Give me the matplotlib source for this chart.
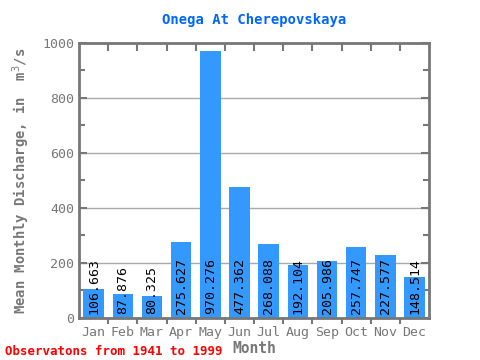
import matplotlib
matplotlib.use('Agg')
import matplotlib.pyplot as plt
from matplotlib.ticker import MultipleLocator

months = ['Jan', 'Feb', 'Mar', 'Apr', 'May', 'Jun', 'Jul', 'Aug', 'Sep', 'Oct', 'Nov', 'Dec']
flow = [106.663, 87.876, 80.325, 275.627, 970.276, 477.362, 268.088, 192.104, 205.986, 257.747, 227.577, 148.514]
labels = ['106.663', '87.876', '80.325', '275.627', '970.276', '477.362', '268.088', '192.104', '205.986', '257.747', '227.577', '148.514']

plt.rcParams['font.family'] = ['DejaVu Sans Mono']
grey = '#777777'

fig = plt.figure(figsize=(4.8, 3.6), dpi=100)
ax = fig.add_axes([0.1646, 0.1167, 0.7294, 0.764])

x = list(range(len(months)))
ax.bar(x, flow, width=0.7, color='#3399ff', zorder=2)
for i, v in enumerate(flow):
    ax.text(i, 15, labels[i], rotation=90, ha='center', va='bottom', fontsize=9.5, color='black', zorder=3)

ax.set_xlim(-0.5, 11.5)
ax.set_ylim(0, 1000)
ax.set_xticks(x)
ax.set_xticklabels(months, fontsize=9.5, color=grey)
ax.set_xticks([i + 0.5 for i in range(11)], minor=True)
ax.tick_params(axis='x', which='major', length=0, pad=6)
ax.tick_params(axis='x', which='minor', length=4, color=grey, width=1.5, direction='out')

# top ticks pointing inward
top = ax.secondary_xaxis('top')
top.set_xticks([i + 0.5 for i in range(11)])
top.tick_params(length=6, direction='in', color=grey, width=1.5, labeltop=False)
top.spines['top'].set_visible(False)

ax.yaxis.set_major_locator(MultipleLocator(200))
ax.yaxis.set_minor_locator(MultipleLocator(100))
ax.tick_params(axis='y', which='both', left=True, right=True, direction='in', color=grey, width=1.5, labelsize=9.5, labelcolor=grey)
ax.tick_params(axis='y', which='major', length=6)
ax.tick_params(axis='y', which='minor', length=4)
ax.grid(axis='y', which='major', color='#aaaaaa', linewidth=1, zorder=1)

for s in ax.spines.values():
    s.set_color(grey)
    s.set_linewidth(2)

ax.set_title('Onega At Cherepovskaya', fontsize=10, color='#0066ff', fontweight='bold', pad=14)
ax.set_xlabel('Month', fontsize=10.5, color=grey, fontweight='bold', labelpad=1)
ax.set_ylabel('Mean Monthly Discharge, in  m$^{3}$/s', fontsize=10, color=grey, fontweight='bold', labelpad=7)
fig.text(0.01, 0.015, 'Observatons from 1941 to 1999', fontsize=9, color='red', fontweight='bold')

fig.savefig('out.png', dpi=100)
